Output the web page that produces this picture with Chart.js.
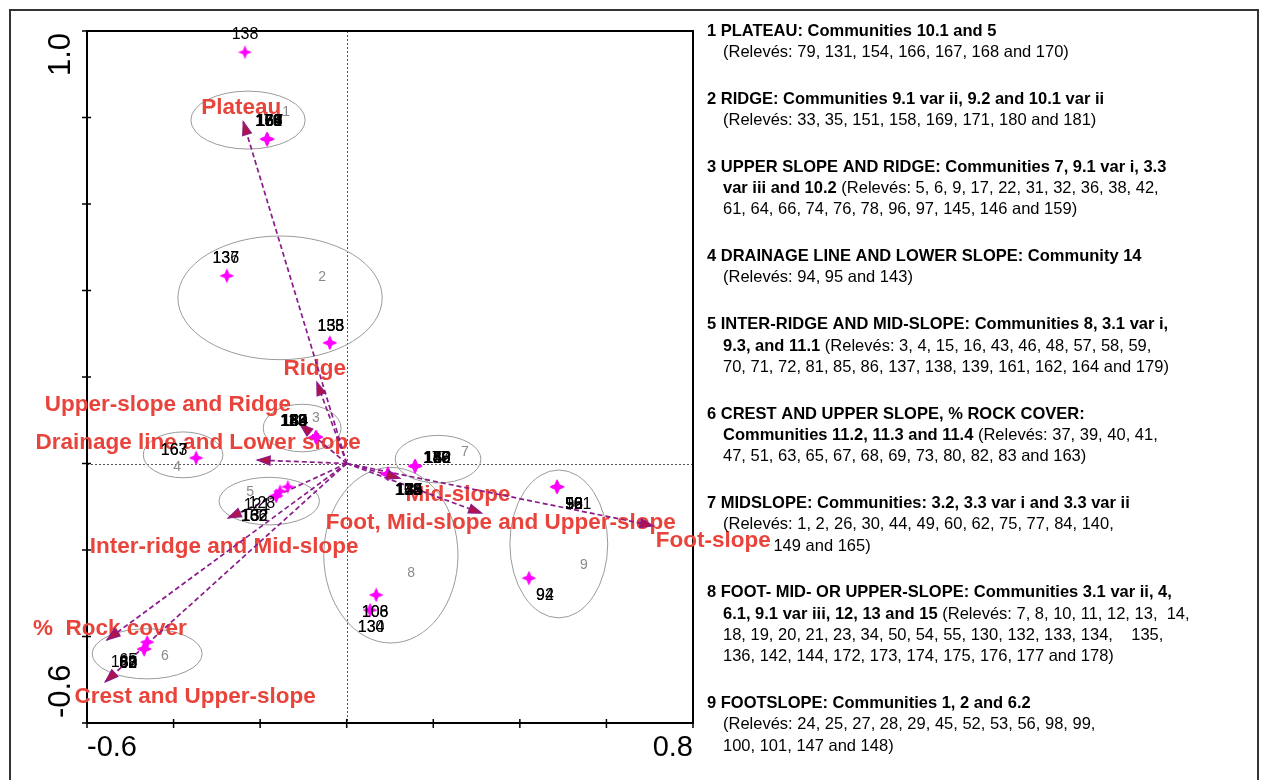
<!DOCTYPE html>
<html>
<head>
<meta charset="utf-8">
<script src="https://cdn.jsdelivr.net/npm/chart.js@4.4.1/dist/chart.umd.min.js"></script>
<style>
  html, body { margin: 0; padding: 0; background: #ffffff; }
  canvas { display: block; }
</style>
</head>
<body>
<canvas id="cca" width="1265" height="780"></canvas>
<script>
// ---------- Relevé scores (CCA axis 1 / axis 2) ----------
const releveLabels = ['138',
  '168', '170', '154', '166', '131', '167', '179',
  '136', '137',
  '135', '133', '158',
  '159', '146', '145', '150', '184', '123', '160',
  '163', '167',
  '140', '149', '165', '130', '152', '177', '128',
  '142', '144', '173', '176', '135', '158', '120',
  '121', '128', '186', '162', '132',
  '98', '99', '56', '53', '52', '101',
  '92', '94',
  '106', '108',
  '130', '134',
  '180', '65', '68', '67', '63', '83', '82'];
const releveAxis1 = [-0.235,
  -0.184, -0.184, -0.184, -0.184, -0.184, -0.184, -0.184,
  -0.277, -0.277,
  -0.039, -0.039, -0.039,
  -0.071, -0.071, -0.071, -0.071, -0.071, -0.071, -0.071,
  -0.348, -0.348,
  0.158, 0.158, 0.158, 0.158, 0.158, 0.158, 0.158,
  0.095, 0.095, 0.095, 0.095, 0.095, 0.095, 0.095,
  -0.154, -0.136, -0.163, -0.163, -0.163,
  0.486, 0.486, 0.486, 0.486, 0.486, 0.486,
  0.421, 0.421,
  0.068, 0.068,
  0.054, 0.054,
  -0.461, -0.461, -0.468, -0.468, -0.468, -0.468, -0.468];
const releveAxis2 = [0.951,
  0.750, 0.750, 0.750, 0.750, 0.750, 0.750, 0.750,
  0.434, 0.434,
  0.279, 0.279, 0.279,
  0.061, 0.061, 0.061, 0.061, 0.061, 0.061, 0.061,
  0.013, 0.013,
  -0.006, -0.006, -0.006, -0.006, -0.006, -0.006, -0.006,
  -0.024, -0.024, -0.024, -0.024, -0.024, -0.024, -0.024,
  -0.064, -0.054, -0.075, -0.075, -0.075,
  -0.054, -0.054, -0.054, -0.054, -0.054, -0.054,
  -0.265, -0.265,
  -0.304, -0.304,
  -0.339, -0.339,
  -0.413, -0.413, -0.429, -0.429, -0.429, -0.429, -0.429];

// ---------- Environmental variables (biplot arrow heads) ----------
const envNames = ['Plateau', 'Ridge', 'Upper-slope and Ridge', 'Drainage line and Lower slope',
  'Inter-ridge and Mid-slope', '%  Rock cover', 'Crest and Upper-slope',
  'Mid-slope', 'Foot, Mid-slope and Upper-slope', 'Foot-slope'];
const envAxis1 = [-0.239, -0.069, -0.108, -0.207, -0.274, -0.554, -0.558, 0.123, 0.312, 0.708];
const envAxis2 = [0.790, 0.188, 0.091, 0.008, -0.126, -0.408, -0.505, -0.034, -0.115, -0.144];

// ---------- Community group envelopes ----------
const groupNumbers = ['1', '2', '3', '4', '5', '6', '7', '8', '9'];
const groupCentre1 = [-0.228, -0.154, -0.103, -0.378, -0.179, -0.461, 0.211, 0.102, 0.490];
const groupCentre2 = [0.794, 0.383, 0.082, 0.020, -0.087, -0.440, 0.010, -0.212, -0.186];
const groupSpread1 = [0.132, 0.236, 0.090, 0.092, 0.116, 0.127, 0.099, 0.155, 0.113];
const groupSpread2 = [0.067, 0.143, 0.055, 0.053, 0.055, 0.058, 0.055, 0.203, 0.171];
const groupTag1 = [-0.140, -0.057, -0.071, -0.392, -0.223, -0.420, 0.273, 0.149, 0.548];
const groupTag2 = [0.813, 0.431, 0.105, -0.008, -0.066, -0.445, 0.027, -0.253, -0.235];

// ---------- Axes ----------
const axis1Ticks = [-0.6, -0.4, -0.2, 0, 0.2, 0.4, 0.6, 0.8];
const axis2Ticks = [-0.6, -0.4, -0.2, 0, 0.2, 0.4, 0.6, 0.8, 1.0];
const axis1TickLabels = ['-0.6', '', '', '', '', '', '', '0.8'];
const axis2TickLabels = ['-0.6', '', '', '', '', '', '', '', '1.0'];

// ---------- Key to the groups ----------
const keyGroups = [
  [[[1, '1 PLATEAU: Communities 10.1 and 5']],
   [[0, '(Relevés: 79, 131, 154, 166, 167, 168 and 170)']]],
  [[[1, '2 RIDGE: Communities 9.1 var ii, 9.2 and 10.1 var ii']],
   [[0, '(Relevés: 33, 35, 151, 158, 169, 171, 180 and 181)']]],
  [[[1, '3 UPPER SLOPE AND RIDGE: Communities 7, 9.1 var i, 3.3']],
   [[1, 'var iii and 10.2'], [0, ' (Relevés: 5, 6, 9, 17, 22, 31, 32, 36, 38, 42,']],
   [[0, '61, 64, 66, 74, 76, 78, 96, 97, 145, 146 and 159)']]],
  [[[1, '4 DRAINAGE LINE AND LOWER SLOPE: Community 14']],
   [[0, '(Relevés: 94, 95 and 143)']]],
  [[[1, '5 INTER-RIDGE AND MID-SLOPE: Communities 8, 3.1 var i,']],
   [[1, '9.3, and 11.1'], [0, ' (Relevés: 3, 4, 15, 16, 43, 46, 48, 57, 58, 59,']],
   [[0, '70, 71, 72, 81, 85, 86, 137, 138, 139, 161, 162, 164 and 179)']]],
  [[[1, '6 CREST AND UPPER SLOPE, % ROCK COVER:']],
   [[1, 'Communities 11.2, 11.3 and 11.4'], [0, ' (Relevés: 37, 39, 40, 41,']],
   [[0, '47, 51, 63, 65, 67, 68, 69, 73, 80, 82, 83 and 163)']]],
  [[[1, '7 MIDSLOPE: Communities: 3.2, 3.3 var i and 3.3 var ii']],
   [[0, '(Relevés: 1, 2, 26, 30, 44, 49, 60, 62, 75, 77, 84, 140,']],
   [[0, '           149 and 165)']]],
  [[[1, '8 FOOT- MID- OR UPPER-SLOPE: Communities 3.1 var ii, 4,']],
   [[1, '6.1, 9.1 var iii, 12, 13 and 15'], [0, ' (Relevés: 7, 8, 10, 11, 12, 13,  14,']],
   [[0, '18, 19, 20, 21, 23, 34, 50, 54, 55, 130, 132, 133, 134,    135,']],
   [[0, '136, 142, 144, 172, 173, 174, 175, 176, 177 and 178)']]],
  [[[1, '9 FOOTSLOPE: Communities 1, 2 and 6.2']],
   [[0, '(Relevés: 24, 25, 27, 28, 29, 45, 52, 53, 56, 98, 99,']],
   [[0, '100, 101, 147 and 148)']]]
];

// ---------- Styling ----------
const FONT = 'Arial, "Liberation Sans", sans-serif';
const ARROW_COLOR = '#8b1a8b';
const HEAD_FILL = '#b0124a';
const ENV_TEXT = '#e8443c';
const releveLabelOffsets = [[0, -18],
  [2, -18], [2, -18], [2, -18], [2, -18], [2, -18], [3, -18], [1, -18],
  [-1, -17], [-1, -17],
  [1, -16], [1, -16], [1, -16],
  [-22, -16], [-22, -16], [-22, -16], [-22, -16], [-21, -16], [-23, -16], [-22, -16],
  [-22, -7], [-22, -7],
  [22, -8], [22, -8], [22, -8], [22, -8], [23, -8], [21, -8], [22, -8],
  [21, 17], [21, 17], [21, 17], [21, 17], [22, 17], [20, 17], [21, 17],
  [-23, 14], [-26, 17], [-22, 21], [-22, 21], [-21, 21],
  [17, 18], [17, 18], [17, 18], [17, 18], [17, 18], [21, 18],
  [16, 17], [16, 17],
  [-1, 18], [-1, 18],
  [1, 17], [1, 17],
  [-23, 20], [-19, 18], [-16, 15], [-16, 15], [-16, 15], [-16, 15], [-16, 15]];
const envLabelOffsets = [[-2, -14], [-2, -13], [-132, -19], [-59, -17], [-4, 29],
  [3, -11], [90, 15], [58, 17], [19, 10], [60, 15]];

function starSprite(size, color) {
  const c = document.createElement('canvas');
  c.width = c.height = size;
  const g = c.getContext('2d');
  const m = size / 2, r = size / 2 - 0.5, ri = r * 0.4;
  g.beginPath();
  for (let k = 0; k < 8; k++) {
    const a = -Math.PI / 2 + k * Math.PI / 4;
    const rr = k % 2 === 0 ? r : ri;
    g.lineTo(m + rr * Math.cos(a), m + rr * Math.sin(a));
  }
  g.closePath();
  g.fillStyle = color;
  g.fill();
  return c;
}

const releveData = releveAxis1.map((v, i) => ({ x: v, y: releveAxis2[i] }));
const arrowSets = envNames.map((n, i) => ({
  type: 'scatter',
  label: n,
  data: [{ x: 0, y: 0 }, { x: envAxis1[i], y: envAxis2[i] }],
  showLine: true,
  borderColor: ARROW_COLOR,
  borderWidth: 1.7,
  borderDash: [5, 3],
  pointRadius: 0,
  order: 2
}));

// Frame, axes, tick marks, zero lines, group envelopes, variable names
const backdrop = {
  id: 'backdrop',
  beforeDatasetsDraw(chart) {
    const g = chart.ctx, a = chart.chartArea;
    const sx = chart.scales.x, sy = chart.scales.y;
    g.save();
    // outer frame
    g.strokeStyle = '#333'; g.lineWidth = 2;
    g.beginPath();
    g.moveTo(10, 790); g.lineTo(10, 10); g.lineTo(1258, 10); g.lineTo(1258, 790);
    g.stroke();
    // zero lines
    g.strokeStyle = '#555'; g.lineWidth = 1; g.setLineDash([2, 2]);
    const x0 = Math.round(sx.getPixelForValue(0)) + 0.5;
    const y0 = Math.round(sy.getPixelForValue(0)) + 0.5;
    g.beginPath();
    g.moveTo(x0, a.top); g.lineTo(x0, a.bottom);
    g.moveTo(a.left, y0); g.lineTo(a.right, y0);
    g.stroke();
    g.setLineDash([]);
    // plot box
    g.strokeStyle = '#000'; g.lineWidth = 2;
    g.strokeRect(a.left, a.top, a.right - a.left, a.bottom - a.top);
    // tick marks crossing the axes
    g.lineWidth = 1.5;
    g.beginPath();
    axis1Ticks.forEach(t => {
      const px = sx.getPixelForValue(t);
      g.moveTo(px, a.bottom - 4); g.lineTo(px, a.bottom + 5);
    });
    axis2Ticks.forEach(t => {
      const py = sy.getPixelForValue(t);
      g.moveTo(a.left - 5, py); g.lineTo(a.left + 4, py);
    });
    g.stroke();
    // tick labels
    g.fillStyle = '#000';
    g.font = '29px ' + FONT;
    g.textBaseline = 'middle';
    axis1Ticks.forEach((t, i) => {
      const s = axis1TickLabels[i];
      if (!s) return;
      const px = sx.getPixelForValue(t);
      g.textAlign = i === 0 ? 'left' : (i === axis1Ticks.length - 1 ? 'right' : 'center');
      g.fillText(s, px, a.bottom + 25);
    });
    axis2Ticks.forEach((t, i) => {
      const s = axis2TickLabels[i];
      if (!s) return;
      const py = sy.getPixelForValue(t);
      g.save();
      g.translate(a.left - 26, py);
      g.rotate(-Math.PI / 2);
      g.textAlign = i === 0 ? 'left' : 'right';
      g.font = '31px ' + FONT;
      g.fillText(s, i === 0 ? 5 : -2, 0);
      g.restore();
    });
    // group envelopes
    g.strokeStyle = '#9a9a9a'; g.lineWidth = 1;
    groupNumbers.forEach((n, i) => {
      const cx = sx.getPixelForValue(groupCentre1[i]);
      const cy = sy.getPixelForValue(groupCentre2[i]);
      const rx = Math.abs(sx.getPixelForValue(groupCentre1[i] + groupSpread1[i]) - cx);
      const ry = Math.abs(sy.getPixelForValue(groupCentre2[i] + groupSpread2[i]) - cy);
      g.beginPath();
      g.ellipse(cx, cy, rx, ry, 0, 0, Math.PI * 2);
      g.stroke();
    });
    g.fillStyle = '#8a8a8a';
    g.font = '14px ' + FONT;
    g.textAlign = 'center';
    groupNumbers.forEach((n, i) => {
      g.fillText(n, sx.getPixelForValue(groupTag1[i]), sy.getPixelForValue(groupTag2[i]));
    });
    // variable names
    g.fillStyle = ENV_TEXT;
    g.font = 'bold 22.5px ' + FONT;
    envNames.forEach((n, i) => {
      const px = sx.getPixelForValue(envAxis1[i]) + envLabelOffsets[i][0];
      const py = sy.getPixelForValue(envAxis2[i]) + envLabelOffsets[i][1];
      g.fillText(n, px, py);
    });
    g.restore();
  },
  afterDatasetsDraw(chart) {
    const g = chart.ctx;
    const sx = chart.scales.x, sy = chart.scales.y;
    g.save();
    // arrow heads
    const ox = sx.getPixelForValue(0), oy = sy.getPixelForValue(0);
    envNames.forEach((n, i) => {
      const tx = sx.getPixelForValue(envAxis1[i]), ty = sy.getPixelForValue(envAxis2[i]);
      const ang = Math.atan2(ty - oy, tx - ox);
      const L = 13, W = 4.5;
      const bx = tx - L * Math.cos(ang), by = ty - L * Math.sin(ang);
      g.beginPath();
      g.moveTo(tx, ty);
      g.lineTo(bx + W * Math.sin(ang), by - W * Math.cos(ang));
      g.lineTo(bx - W * Math.sin(ang), by + W * Math.cos(ang));
      g.closePath();
      g.fillStyle = HEAD_FILL; g.fill();
      g.strokeStyle = ARROW_COLOR; g.lineWidth = 1.2; g.stroke();
    });
    // relevé numbers
    g.fillStyle = '#000';
    g.font = '16px ' + FONT;
    g.textAlign = 'center';
    g.textBaseline = 'middle';
    releveLabels.forEach((s, i) => {
      const px = sx.getPixelForValue(releveAxis1[i]) + releveLabelOffsets[i][0];
      const py = sy.getPixelForValue(releveAxis2[i]) + releveLabelOffsets[i][1];
      g.fillText(s, px, py);
    });
    g.restore();
  },
  afterDraw(chart) {
    const g = chart.ctx;
    g.save();
    g.fillStyle = '#000';
    g.textBaseline = 'middle';
    g.textAlign = 'left';
    let y = 31;
    keyGroups.forEach((lines, gi) => {
      lines.forEach((segs, li) => {
        let x = li === 0 ? 707 : 723;
        segs.forEach(([bold, txt]) => {
          g.font = (bold ? 'bold ' : '') + '16.5px ' + FONT;
          g.fillText(txt, x, y);
          x += g.measureText(txt).width;
        });
        y += 21.3;
      });
      y += 25.5;
    });
    g.restore();
  }
};

new Chart(document.getElementById('cca'), {
  type: 'scatter',
  data: {
    datasets: [{
      label: 'Relevés',
      data: releveData,
      pointStyle: starSprite(15, '#ff00ff'),
      pointRadius: 7,
      order: 0
    }, ...arrowSets]
  },
  options: {
    responsive: false,
    animation: false,
    devicePixelRatio: 1,
    layout: { padding: { left: 87, top: 31, right: 572, bottom: 57 } },
    scales: {
      x: { type: 'linear', min: -0.6, max: 0.8, display: false },
      y: { type: 'linear', min: -0.6, max: 1.0, display: false }
    },
    plugins: { legend: { display: false }, tooltip: { enabled: false } }
  },
  plugins: [backdrop]
});
</script>
</body>
</html>
